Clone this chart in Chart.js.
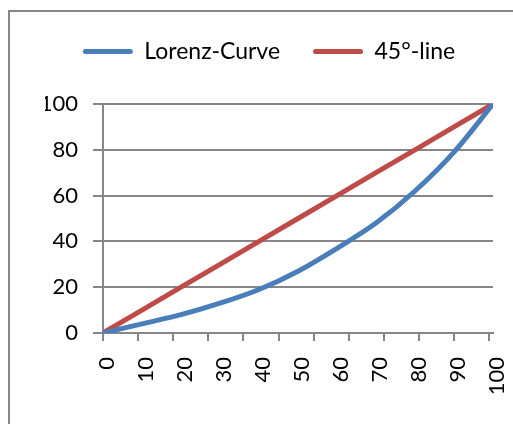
<!DOCTYPE html>
<html lang="en">
<head>
    <meta charset="UTF-8">
    <title>Lorenz-Curve</title>
    <script src="https://cdn.jsdelivr.net/npm/chart.js"></script>
    <style>
        html, body { margin: 0; padding: 0; background: #fff; overflow: hidden; }
        #wrap { position: relative; width: 513px; height: 424px; overflow: hidden; }
        /* Excel chart frame, only left and top edges are visible in the crop */
        .frame { position: absolute; left: 8px; top: 10px; width: 700px; height: 600px; border: 2px solid #878787; box-sizing: border-box; }
        #chart { position: absolute; left: 0; top: 0; }
    </style>
</head>
<body>

<div id="wrap">
    <div class="frame"></div>
    <canvas id="chart" width="513" height="424"></canvas>
</div>

<script>
    // population share (%) and income share (%)
    const xValues = [0, 10, 20, 30, 40, 50, 60, 70, 80, 90, 100];
    const lorenzValues = [0, 4, 8, 13, 19, 27, 37, 48, 62, 79, 100];
    const lineValues = [0, 10, 20, 30, 40, 50, 60, 70, 80, 90, 100];
    const yTicks = [0, 20, 40, 60, 80, 100];

    const blue = '#4a7ebb';
    const red = '#be4b48';
    const gray = '#878787';
    const fontFam = 'Lato, "Open Sans", sans-serif';

    const toPoints = (ys) => xValues.map((x, i) => ({ x: x, y: ys[i] }));

    // extra room between legend and plot, like the excel layout
    const legendSpacer = {
        id: 'legendSpacer',
        beforeLayout(chart) {
            const lg = chart.legend;
            if (lg && !lg._spaced) {
                const fit = lg.fit;
                lg.fit = function () { fit.call(this); this.height += 31; };
                lg._spaced = true;
            }
        }
    };

    new Chart(document.getElementById('chart'), {
        type: 'line',
        data: {
            datasets: [
                { label: 'Lorenz-Curve', data: toPoints(lorenzValues), borderColor: blue, backgroundColor: blue,
                  borderWidth: 5, pointRadius: 0, cubicInterpolationMode: 'monotone', borderCapStyle: 'round', borderJoinStyle: 'round' },
                { label: '45°-line', data: toPoints(lineValues), borderColor: red, backgroundColor: red,
                  borderWidth: 5, pointRadius: 0, tension: 0, borderCapStyle: 'round' }
            ]
        },
        options: {
            responsive: false,
            animation: false,
            devicePixelRatio: 1,
            layout: { padding: { left: 45, right: 20, top: 7, bottom: 0 } },
            plugins: {
                tooltip: { enabled: false },
                legend: {
                    position: 'top',
                    labels: {
                        boxWidth: 50, boxHeight: 5, padding: 33,
                        useBorderRadius: true, borderRadius: 2.5,
                        color: '#000', font: { family: fontFam, size: 23 },
                        generateLabels: (chart) => Chart.defaults.plugins.legend.labels.generateLabels(chart)
                            .map(l => Object.assign(l, { lineWidth: 0 }))
                    }
                }
            },
            scales: {
                x: {
                    type: 'linear', min: 0, max: 100,
                    afterBuildTicks: (scale) => {
                        const t = [];
                        for (let v = 0; v <= 100; v++) t.push({ value: v });
                        scale.ticks = t;
                    },
                    afterFit: (scale) => { scale.height = 91; scale.paddingLeft = 0; scale.paddingRight = 20; },
                    ticks: {
                        autoSkip: false, minRotation: 90, maxRotation: 90, padding: 16, labelOffset: 4,
                        color: '#000', font: { family: fontFam, size: 22 },
                        callback: (v) => (v % 10 === 0 ? String(v) : '')
                    },
                    grid: {
                        drawOnChartArea: false, tickLength: 8, lineWidth: 2,
                        tickColor: (ctx) => (ctx.tick && ctx.tick.value % 9 === 0 ? gray : 'rgba(0,0,0,0)')
                    },
                    border: { color: gray, width: 2 }
                },
                y: {
                    min: 0, max: 100,
                    afterBuildTicks: (scale) => { scale.ticks = yTicks.map(v => ({ value: v })); },
                    afterFit: (scale) => { scale.width = 58; },
                    ticks: { padding: 15, color: '#000', font: { family: fontFam, size: 22 } },
                    grid: { color: gray, lineWidth: 2, tickLength: 10 },
                    border: { color: gray, width: 2 }
                }
            }
        },
        plugins: [legendSpacer]
    });
</script>
</body>
</html>
